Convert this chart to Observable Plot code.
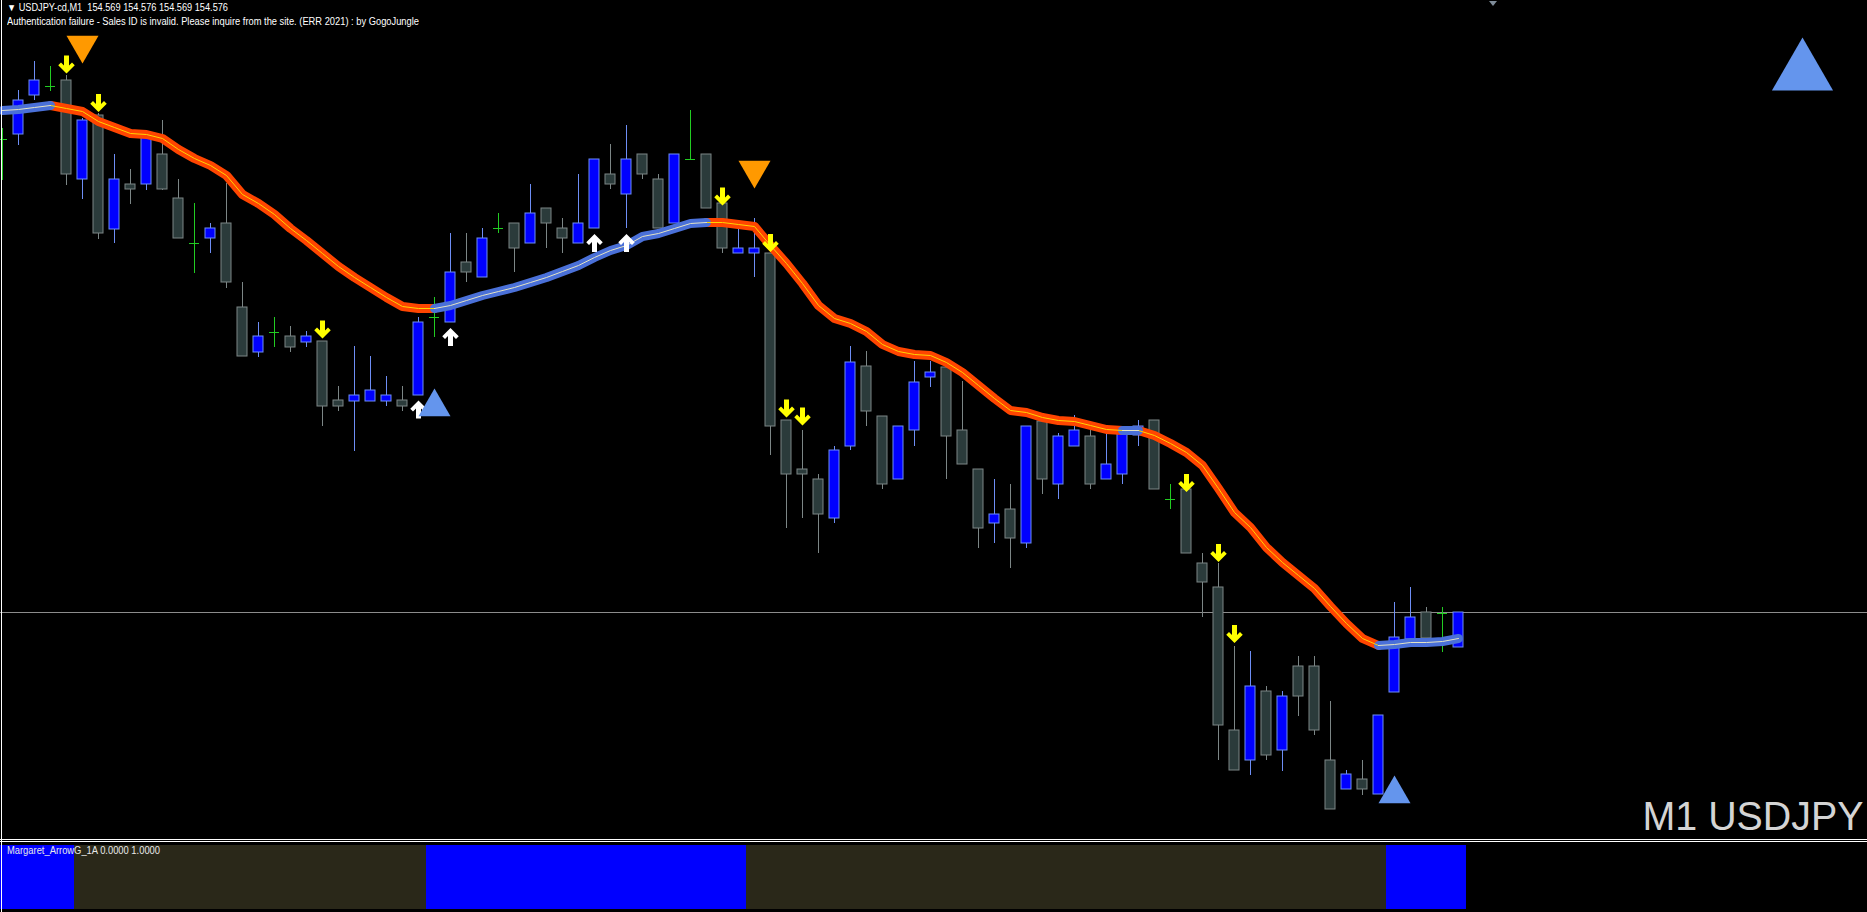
<!DOCTYPE html>
<html>
<head>
<meta charset="utf-8">
<script src="https://cdn.jsdelivr.net/npm/d3@7"></script>
<script src="https://cdn.jsdelivr.net/npm/@observablehq/plot@0.6"></script>
<style>
html,body{margin:0;padding:0;background:#000;}
#wrap{position:relative;width:1867px;height:912px;background:#000;overflow:hidden;font-family:"Liberation Sans",Arial,sans-serif;}
.lbl{position:absolute;white-space:pre;transform-origin:0 0;}
.line{position:absolute;background:#fff;}
</style>
</head>
<body>
<div id="wrap">
  <div id="main" style="position:absolute;left:0;top:0;width:1867px;height:839px"></div>
  <div id="ind" style="position:absolute;left:0;top:843px;width:1867px;height:69px"></div>
  <div class="line" style="left:0;top:839px;width:1867px;height:1px"></div>
  <div class="line" style="left:0;top:841px;width:1867px;height:1px"></div>
  <div class="line" style="left:1px;top:0;width:1px;height:912px"></div>
  <div style="position:absolute;left:1489px;top:1px;width:0;height:0;border-left:4px solid transparent;border-right:4px solid transparent;border-top:5px solid #7F8C99"></div>
</div>
<script>
// ---------------- data ----------------
const symbolName = "USDJPY-cd";
const timeframe = "M1";
const chartLabel = "M1 USDJPY";
const authMessage = "Authentication failure - Sales ID is invalid. Please inquire from the site. (ERR 2021) : by GogoJungle";
const indicatorName = "Margaret_ArrowG_1A";
const indicatorValues = [0.0000, 1.0000];
const bidPrice = 154.576;

const opens = [
154.6706,154.6716,154.6794,154.6812,154.6824,154.6626,154.6754,154.6526,154.6616,154.6616,
154.6676,154.6588,154.6498,154.6508,154.6538,154.6370,154.6280,154.6320,154.6312,154.6300,
154.6302,154.6184,154.6182,154.6182,154.6182,154.6184,154.6194,154.6350,154.6340,154.6460,
154.6430,154.6528,154.6538,154.6498,154.6568,154.6528,154.6498,154.6528,154.6636,154.6596,
154.6676,154.6626,154.6538,154.6666,154.6676,154.6578,154.6478,154.6478,154.6478,154.6144,
154.6046,154.6026,154.5948,154.6092,154.6252,154.6152,154.6026,154.6124,154.6230,154.6250,
154.6124,154.6046,154.5938,154.5966,154.5898,154.6142,154.6016,154.6092,154.6112,154.6026,
154.6036,154.6114,154.6144,154.5986,154.6006,154.5858,154.5810,154.5524,154.5464,154.5602,
154.5484,154.5652,154.5652,154.5464,154.5406,154.5426,154.5396,154.5600,154.5706,154.5760,
154.5758,154.5690];
const highs = [
154.6728,154.6804,154.6862,154.6852,154.6834,154.6748,154.6758,154.6676,154.6646,154.6718,
154.6744,154.6626,154.6578,154.6538,154.6618,154.6420,154.6340,154.6350,154.6332,154.6322,
154.6302,154.6212,154.6292,154.6272,154.6232,154.6212,154.6350,154.6390,154.6518,154.6518,
154.6528,154.6558,154.6538,154.6616,154.6568,154.6548,154.6636,154.6666,154.6696,154.6734,
154.6676,154.6636,154.6676,154.6764,154.6676,154.6584,154.6528,154.6548,154.6478,154.6144,
154.6124,154.6036,154.6092,154.6292,154.6282,154.6152,154.6132,154.6262,154.6262,154.6250,
154.6222,154.6046,154.6026,154.6016,154.6132,154.6148,154.6118,154.6154,154.6124,154.6132,
154.6128,154.6144,154.6144,154.6016,154.6006,154.5878,154.5858,154.5692,154.5682,154.5612,
154.5602,154.5672,154.5672,154.5582,154.5444,154.5464,154.5554,154.5780,154.5810,154.5770,
154.5770,154.5760];
const lows = [
154.6624,154.6694,154.6784,154.6802,154.6614,154.6586,154.6506,154.6498,154.6576,154.6604,
154.6604,154.6508,154.6438,154.6478,154.6408,154.6272,154.6270,154.6290,154.6280,154.6290,
154.6132,154.6162,154.6082,154.6182,154.6172,154.6162,154.6194,154.6310,154.6340,154.6420,
154.6430,154.6518,154.6440,154.6498,154.6488,154.6478,154.6498,154.6528,154.6606,154.6528,
154.6626,154.6528,154.6538,154.6666,154.6568,154.6478,154.6478,154.6430,154.6074,154.5928,
154.5948,154.5878,154.5938,154.6084,154.6132,154.6006,154.6026,154.6092,154.6210,154.6026,
154.6056,154.5888,154.5898,154.5848,154.5888,154.5996,154.5986,154.6092,154.6006,154.6026,
154.6016,154.6092,154.6006,154.5966,154.5878,154.5750,154.5464,154.5444,154.5434,154.5464,
154.5442,154.5552,154.5514,154.5366,154.5406,154.5394,154.5396,154.5600,154.5706,154.5708,
154.5680,154.5690];
const closes = [
154.6706,154.6784,154.6824,154.6812,154.6636,154.6744,154.6518,154.6626,154.6606,154.6710,
154.6606,154.6508,154.6498,154.6528,154.6420,154.6272,154.6312,154.6320,154.6290,154.6312,
154.6172,154.6172,154.6194,154.6204,154.6194,154.6172,154.6340,154.6350,154.6440,154.6440,
154.6508,154.6528,154.6488,154.6558,154.6538,154.6508,154.6538,154.6666,154.6616,154.6666,
154.6636,154.6528,154.6676,154.6666,154.6568,154.6488,154.6488,154.6488,154.6132,154.6036,
154.6036,154.5956,154.6084,154.6260,154.6162,154.6016,154.6132,154.6220,154.6240,154.6112,
154.6056,154.5928,154.5956,154.5908,154.6132,154.6026,154.6112,154.6124,154.6016,154.6056,
154.6124,154.6132,154.6006,154.5986,154.5878,154.5820,154.5534,154.5444,154.5612,154.5474,
154.5592,154.5592,154.5524,154.5366,154.5436,154.5406,154.5554,154.5710,154.5750,154.5708,
154.5758,154.5760];

// trend moving average (value per bar) and colour of the segment ending at each bar (1 up, -1 down)
const maValues = [
154.6764,154.6766,154.6770,154.6774,154.6768,154.6762,154.6742,154.6730,154.6718,154.6716,
154.6708,154.6686,154.6668,154.6654,154.6634,154.6596,154.6578,154.6556,154.6528,154.6504,
154.6478,154.6452,154.6430,154.6410,154.6390,154.6372,154.6368,154.6368,154.6374,154.6384,
154.6394,154.6402,154.6410,154.6420,154.6430,154.6442,154.6454,154.6470,154.6484,154.6494,
154.6512,154.6518,154.6528,154.6538,154.6540,154.6540,154.6536,154.6532,154.6494,154.6458,
154.6418,154.6374,154.6348,154.6338,154.6322,154.6296,154.6282,154.6276,154.6274,154.6260,
154.6240,154.6214,154.6188,154.6164,154.6160,154.6150,154.6144,154.6142,154.6134,154.6126,
154.6124,154.6124,154.6114,154.6098,154.6080,154.6054,154.6008,154.5960,154.5930,154.5890,
154.5860,154.5834,154.5808,154.5772,154.5738,154.5708,154.5694,154.5696,154.5700,154.5700,
154.5702,154.5708];
const maTrend = [
1,1,1,1,-1,-1,-1,-1,-1,-1,
-1,-1,-1,-1,-1,-1,-1,-1,-1,-1,
-1,-1,-1,-1,-1,-1,-1,-1,1,1,
1,1,1,1,1,1,1,1,1,1,
1,1,1,1,1,-1,-1,-1,-1,-1,
-1,-1,-1,-1,-1,-1,-1,-1,-1,-1,
-1,-1,-1,-1,-1,-1,-1,-1,-1,-1,
-1,1,-1,-1,-1,-1,-1,-1,-1,-1,
-1,-1,-1,-1,-1,-1,-1,1,1,1,
1,1];

// sub-window histogram state (1 = up / blue, -1 = down)
const indTrend = [
1,1,1,1,1,-1,-1,-1,-1,-1,
-1,-1,-1,-1,-1,-1,-1,-1,-1,-1,
-1,-1,-1,-1,-1,-1,-1,1,1,1,
1,1,1,1,1,1,1,1,1,1,
1,1,1,1,1,1,1,-1,-1,-1,
-1,-1,-1,-1,-1,-1,-1,-1,-1,-1,
-1,-1,-1,-1,-1,-1,-1,-1,-1,-1,
-1,-1,-1,-1,-1,-1,-1,-1,-1,-1,
-1,-1,-1,-1,-1,-1,-1,1,1,1,
1,1];

// arrows
const sellArrowBars   = [4,6,20,45,48,49,50,74,76,77];
const sellArrowPrices = [154.6856,154.6779,154.6326,154.6592,154.6499,154.6168,154.6152,154.6019,154.5879,154.5717];
const buyArrowBars    = [26,28,37,39];
const buyArrowPrices  = [154.6166,154.6311,154.6499,154.6499];
// signal triangles
const sellSignalBars   = [5,47];
const sellSignalPrices = [154.6895,154.6645];
const buySignalBars    = [27,87];
const buySignalPrices  = [154.6171,154.5397];
const currentSignal = "up";

// ---------------- colours ----------------
const C = {
  bullFill:"#0000FF", bullLine:"#6E8EF5",
  bearFill:"#2B3B3B", bearLine:"#7C8686",
  doji:"#22CC22", bid:"#8C8C8C",
  maDown:"#FF4500", maDownCore:"#FFD400",
  maUp:"#4A70D8", maUpCore:"#E4E4C4",
  sellArrow:"#FFFF00", buyArrow:"#FFFFFF",
  sellTri:"#FF9900", buyTri:"#6495ED",
  histUp:"#0000FF", histDown:"#2A2819"
};

// ---------------- tables ----------------
const bars = opens.map((o, i) => ({i, o, h: highs[i], l: lows[i], c: closes[i]}));
const bull = bars.filter(d => d.c > d.o);
const bear = bars.filter(d => d.c < d.o);
const doji = bars.filter(d => d.c === d.o);

const maRows = [];
let seg = 0;
for (let k = 0; k < maValues.length; k++) {
  if (k > 0 && maTrend[k] !== maTrend[k - 1]) {
    seg++;
    maRows.push({i: k - 1, v: maValues[k - 1], seg, up: maTrend[k] === 1});
  }
  maRows.push({i: k, v: maValues[k], seg, up: maTrend[k] === 1});
}
const maUpRows = maRows.filter(d => d.up);
const maDownRows = maRows.filter(d => !d.up);

const sellArrows = sellArrowBars.map((i, j) => ({i, p: sellArrowPrices[j]}));
const buyArrows = buyArrowBars.map((i, j) => ({i, p: buyArrowPrices[j]}));
const sellSignals = sellSignalBars.map((i, j) => ({i, p: sellSignalPrices[j]}));
const buySignals = buySignalBars.map((i, j) => ({i, p: buySignalPrices[j]}));
const indRows = indTrend.map((t, i) => ({i, t, v: 1}));

// arrow glyph shapes (MT4 style)
const arrowShape = [[-2.5,-9],[2.5,-9],[2.5,1],[5.5,-2],[8.25,0.75],[0,9],[-8.25,0.75],[-5.5,-2],[-2.5,1]];
function glyph(sign) {
  return {draw(ctx) {
    ctx.moveTo(arrowShape[0][0], sign * arrowShape[0][1]);
    for (let j = 1; j < arrowShape.length; j++) ctx.lineTo(arrowShape[j][0], sign * arrowShape[j][1]);
    ctx.closePath();
  }};
}
const arrowDown = glyph(1), arrowUp = glyph(-1);

// ---------------- scales ----------------
const xScale = {type: "linear", domain: [-0.125, 116.5625], axis: null};
const half = 5 / 16;

const mainPlot = Plot.plot({
  width: 1867, height: 839,
  marginTop: 0, marginBottom: 0, marginLeft: 0, marginRight: 0,
  style: {background: "transparent", overflow: "hidden"},
  x: xScale,
  y: {domain: [154.5306, 154.6984], axis: null},
  marks: [
    Plot.ruleY([bidPrice], {stroke: C.bid, strokeWidth: 1}),
    Plot.ruleX(bull, {x: "i", y1: "l", y2: "h", stroke: C.bullLine, strokeWidth: 1}),
    Plot.ruleX(bear, {x: "i", y1: "l", y2: "h", stroke: C.bearLine, strokeWidth: 1}),
    Plot.rect(bull, {x1: d => d.i - half, x2: d => d.i + half, y1: "o", y2: "c", fill: C.bullFill, stroke: C.bullLine, strokeWidth: 1}),
    Plot.rect(bear, {x1: d => d.i - half, x2: d => d.i + half, y1: "o", y2: "c", fill: C.bearFill, stroke: C.bearLine, strokeWidth: 1}),
    Plot.ruleX(doji, {x: "i", y1: "l", y2: "h", stroke: C.doji, strokeWidth: 1}),
    Plot.ruleY(doji, {y: "o", x1: d => d.i - half, x2: d => d.i + half, stroke: C.doji, strokeWidth: 1}),
    Plot.line(maDownRows, {x: "i", y: "v", z: "seg", stroke: C.maDown, strokeWidth: 9, curve: "linear"}),
    Plot.line(maUpRows, {x: "i", y: "v", z: "seg", stroke: C.maUp, strokeWidth: 9, curve: "linear"}),
    Plot.line(maDownRows, {x: "i", y: "v", z: "seg", stroke: C.maDownCore, strokeWidth: 1, curve: "linear"}),
    Plot.line(maUpRows, {x: "i", y: "v", z: "seg", stroke: C.maUpCore, strokeWidth: 1, curve: "linear"}),
    Plot.dot(sellArrows, {x: "i", y: "p", symbol: arrowDown, r: 9, fill: C.sellArrow, stroke: "none"}),
    Plot.dot(buyArrows, {x: "i", y: "p", symbol: arrowUp, r: 9, fill: C.buyArrow, stroke: "none"}),
    Plot.dot(sellSignals, {x: "i", y: "p", symbol: "triangle", r: 11.88, rotate: 180, fill: C.sellTri, stroke: "none"}),
    Plot.dot(buySignals, {x: "i", y: "p", symbol: "triangle", r: 11.88, fill: C.buyTri, stroke: "none"}),
    Plot.dot([currentSignal], {frameAnchor: "top-right", dx: -65, dy: 72.3, symbol: "triangle", r: 22.7,
      rotate: currentSignal === "up" ? 0 : 180,
      fill: currentSignal === "up" ? C.buyTri : C.sellTri, stroke: "none"})
  ]
});
document.getElementById("main").appendChild(mainPlot);

const indPlot = Plot.plot({
  width: 1867, height: 69,
  marginTop: 2, marginBottom: 3, marginLeft: 0, marginRight: 0,
  style: {background: "transparent", overflow: "hidden"},
  x: xScale,
  y: {domain: [0, 1], axis: null},
  marks: [
    Plot.rect(indRows.filter(d => d.t === 1), {x1: d => d.i - 0.5, x2: d => d.i + 0.5, y1: 0, y2: "v", fill: C.histUp, shapeRendering: "crispEdges"}),
    Plot.rect(indRows.filter(d => d.t === -1), {x1: d => d.i - 0.5, x2: d => d.i + 0.5, y1: 0, y2: "v", fill: C.histDown, shapeRendering: "crispEdges"})
  ]
});
document.getElementById("ind").appendChild(indPlot);

// ---------------- texts ----------------
const wrap = document.getElementById("wrap");
const last = bars[bars.length - 1];
const f3 = d3.format(".3f");
function addLabel(text, o) {
  const el = document.createElement("div");
  el.className = "lbl";
  el.textContent = text;
  el.style.fontSize = o.size + "px";
  el.style.lineHeight = o.size + "px";
  el.style.top = o.top + "px";
  el.style.color = o.color;
  if (o.right != null) { el.style.right = o.right + "px"; el.style.transformOrigin = "100% 0"; }
  else el.style.left = o.left + "px";
  wrap.appendChild(el);
  const fit = () => {
    el.style.transform = "none";
    const w = el.getBoundingClientRect().width;
    if (w > 0) el.style.transform = `scaleX(${o.target / w})`;
  };
  fit();
  if (document.fonts && document.fonts.ready) document.fonts.ready.then(fit);
}
addLabel(`▼ ${symbolName},${timeframe}  ${f3(last.o)} ${f3(last.h)} ${f3(last.l)} ${f3(last.c)}`,
  {left: 7, top: 3.2, size: 10, color: "#FFFFFF", target: 221});
addLabel(authMessage, {left: 7, top: 16.8, size: 10, color: "#FFFFFF", target: 412});
addLabel(`${indicatorName} ${indicatorValues.map(v => v.toFixed(4)).join(" ")}`,
  {left: 7, top: 845.5, size: 10, color: "#E8E8E8", target: 153});
addLabel(chartLabel, {right: 4, top: 796, size: 40, color: "#D4D4D4", target: 221});
</script>
</body>
</html>
